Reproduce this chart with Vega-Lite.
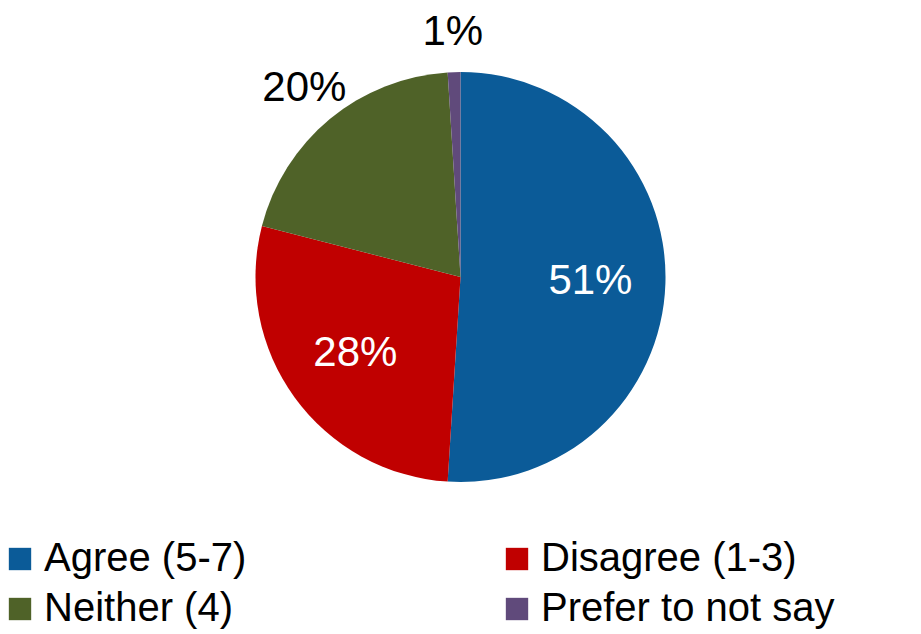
{
  "$schema": "https://vega.github.io/schema/vega-lite/v6.json",
  "width": 921,
  "height": 634,
  "autosize": {"type": "fit", "contains": "padding"},
  "padding": {"top": 30, "left": 0, "right": 0, "bottom": 5},
  "background": "white",
  "config": {"view": {"stroke": null}},
  "data": {
    "values": [
      {"category": "Agree (5-7)", "pct": 51, "label": "51%", "idx": 1},
      {"category": "Disagree (1-3)", "pct": 28, "label": "28%", "idx": 2},
      {"category": "Neither (4)", "pct": 20, "label": "20%", "idx": 3},
      {"category": "Prefer to not say", "pct": 1, "label": "1%", "idx": 4}
    ]
  },
  "encoding": {
    "theta": {"field": "pct", "type": "quantitative", "stack": true},
    "order": {"field": "idx", "type": "quantitative"}
  },
  "layer": [
    {
      "mark": {"type": "arc", "outerRadius": 205},
      "encoding": {
        "color": {
          "field": "category",
          "type": "nominal",
          "scale": {
            "domain": ["Agree (5-7)", "Disagree (1-3)", "Neither (4)", "Prefer to not say"],
            "range": ["#0b5b98", "#c00000", "#4f6228", "#604a7b"]
          },
          "legend": {
            "title": null,
            "orient": "bottom",
            "direction": "horizontal",
            "columns": 2,
            "labelFont": "Liberation Sans",
            "labelFontSize": 40,
            "labelColor": "black",
            "labelLimit": 500,
            "symbolType": "square",
            "symbolSize": 500,
            "symbolStrokeWidth": 0,
            "columnPadding": 250,
            "rowPadding": 10,
            "offset": 15
          }
        }
      }
    },
    {
      "mark": {"type": "text", "radius": 130, "font": "Liberation Sans", "fontSize": 42, "color": "white"},
      "encoding": {"text": {"condition": {"test": "datum.idx <= 2", "field": "label"}, "value": ""}}
    },
    {
      "mark": {"type": "text", "radius": 245, "font": "Liberation Sans", "fontSize": 42, "color": "black"},
      "encoding": {"text": {"condition": {"test": "datum.idx > 2", "field": "label"}, "value": ""}}
    }
  ]
}
